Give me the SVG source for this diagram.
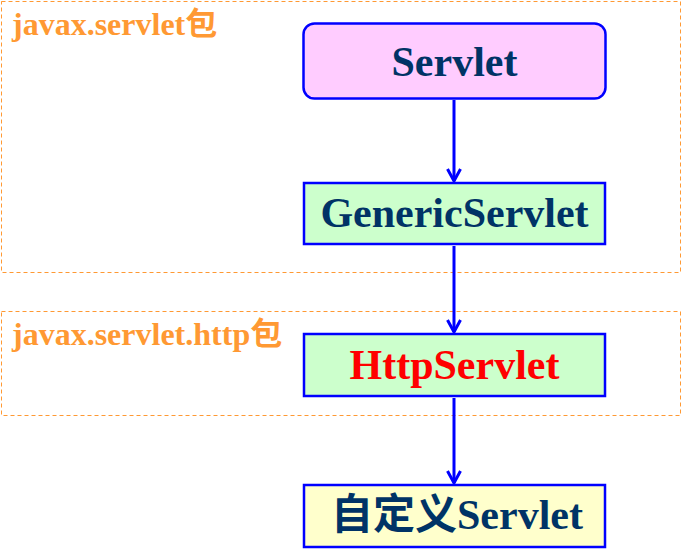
<svg xmlns="http://www.w3.org/2000/svg" width="682" height="549" viewBox="0 0 682 549">
<style>
.pkg{fill:none;stroke:#FF9933;stroke-width:1;stroke-dasharray:4 3}
.pkgt{font-family:"Liberation Serif","Noto Sans CJK SC",serif;font-weight:bold;font-size:32px;fill:#FF9933}
.box{stroke:#0000FF;stroke-width:2.5}
.t{font-family:"Liberation Serif","Noto Sans CJK SC",serif;font-weight:bold;font-size:42px;fill:#003366;text-anchor:middle}
.c{stroke:#0000FF;stroke-width:3;fill:none}
</style>
<defs>
<marker id="ah" markerUnits="userSpaceOnUse" markerWidth="16" markerHeight="18" refX="13" refY="8" orient="auto" viewBox="0 0 16 16">
<path d="M1,1.5 L13,8 L1,14.5" fill="none" stroke="#0000FF" stroke-width="3"/>
</marker>
</defs>
<g id="pkg-servlet">
<rect class="pkg" x="1.5" y="1.5" width="679" height="271"/>
<text class="pkgt" x="12" y="35">javax.servlet包</text>
</g>
<g id="pkg-http">
<rect class="pkg" x="1.5" y="311.5" width="679" height="104"/>
<text class="pkgt" x="12" y="345">javax.servlet.http包</text>
</g>
<g id="connectors">
<line class="c" x1="454" y1="100" x2="454" y2="181" marker-end="url(#ah)"/>
<line class="c" x1="454" y1="246" x2="454" y2="332" marker-end="url(#ah)"/>
<line class="c" x1="454" y1="398" x2="454" y2="483" marker-end="url(#ah)"/>
</g>
<g id="servlet">
<rect class="box" x="303.5" y="23.5" width="302" height="75" rx="11" fill="#FFCCFF"/>
<text class="t" x="454.5" y="76">Servlet</text>
</g>
<g id="generic">
<rect class="box" x="304" y="183" width="301" height="61" fill="#CCFFCC"/>
<text class="t" x="454.5" y="227">GenericServlet</text>
</g>
<g id="http">
<rect class="box" x="304" y="334" width="301" height="62" fill="#CCFFCC"/>
<text class="t" x="454.5" y="379" style="fill:#FF0000">HttpServlet</text>
</g>
<g id="custom">
<rect class="box" x="304" y="485" width="301" height="62" fill="#FFFFCC"/>
<text class="t" x="457" y="529">自定义Servlet</text>
</g>
</svg>
